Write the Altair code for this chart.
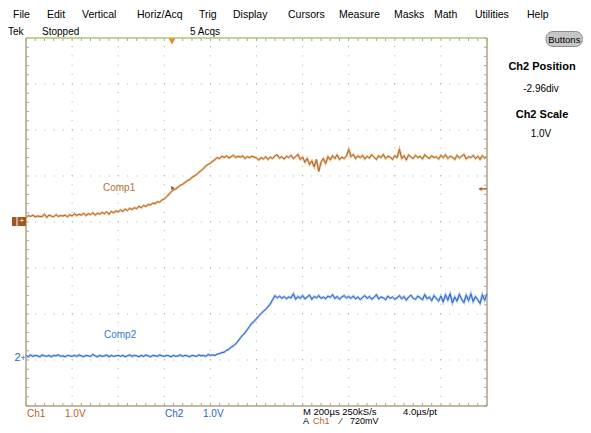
import altair as alt
import pandas as pd
import numpy as np

# ---------------- data (volts, sampled every 0.05 horizontal division) ----------------
ch1_volts = [
    0.10, 0.14, 0.12, 0.15, 0.11, 0.13, 0.12, 0.12, 0.17, 0.10, 0.15, 0.13, 0.11, 0.16, 0.12, 0.14, 0.13, 0.15, 0.11, 0.16, 0.13,
    0.18, 0.14, 0.17, 0.15, 0.19, 0.14, 0.18, 0.16, 0.20, 0.15, 0.19, 0.17, 0.21, 0.18, 0.22, 0.17, 0.23, 0.20, 0.24, 0.22,
    0.26, 0.23, 0.28, 0.25, 0.30, 0.27, 0.31, 0.29, 0.34, 0.31, 0.36, 0.34, 0.38, 0.37, 0.41, 0.40, 0.44, 0.43, 0.48, 0.50,
    0.55, 0.60, 0.66, 0.70, 0.72, 0.76, 0.80, 0.82, 0.86, 0.90, 0.92, 0.97, 1.00, 1.03, 1.08, 1.12, 1.16, 1.22, 1.25, 1.28,
    1.32, 1.36, 1.40, 1.38, 1.43, 1.40, 1.44, 1.39, 1.42, 1.45, 1.40, 1.43, 1.41, 1.44, 1.38, 1.42, 1.40, 1.43, 1.41, 1.39,
    1.35, 1.40, 1.37, 1.42, 1.36, 1.41, 1.38, 1.44, 1.46, 1.39, 1.42, 1.37, 1.43, 1.40, 1.45, 1.38, 1.42, 1.47, 1.36, 1.41,
    1.30, 1.38, 1.25, 1.33, 1.20, 1.36, 1.10, 1.30, 1.38, 1.27, 1.42, 1.35, 1.44, 1.38, 1.46, 1.36, 1.41, 1.38, 1.43, 1.58,
    1.42, 1.47, 1.38, 1.44, 1.40, 1.45, 1.37, 1.43, 1.39, 1.46, 1.41, 1.36, 1.44, 1.40, 1.47, 1.38, 1.43, 1.41, 1.36, 1.44,
    1.40, 1.58, 1.38, 1.44, 1.35, 1.46, 1.41, 1.38, 1.45, 1.40, 1.43, 1.37, 1.46, 1.41, 1.38, 1.44, 1.40, 1.42, 1.37, 1.45,
    1.40, 1.46, 1.38, 1.43, 1.41, 1.36, 1.45, 1.39, 1.43, 1.47, 1.37, 1.42, 1.40, 1.45, 1.38, 1.43, 1.36, 1.44, 1.39, 1.42,
]
ch2_volts = [
    0.06, 0.03, 0.07, 0.04, 0.06, 0.05, 0.03, 0.07, 0.05, 0.04, 0.06, 0.03, 0.06, 0.05, 0.07, 0.04, 0.05, 0.03, 0.06, 0.05, 0.04,
    0.06, 0.04, 0.07, 0.05, 0.03, 0.06, 0.05, 0.04, 0.08, 0.05, 0.03, 0.06, 0.04, 0.05, 0.07, 0.03, 0.06, 0.04, 0.05, 0.06,
    0.04, 0.06, 0.03, 0.05, 0.07, 0.04, 0.06, 0.05, 0.03, 0.06, 0.04, 0.07, 0.05, 0.03, 0.06, 0.05, 0.04, 0.07, 0.05, 0.04,
    0.06, 0.05, 0.03, 0.06, 0.04, 0.05, 0.07, 0.04, 0.06, 0.05, 0.03, 0.06, 0.05, 0.04, 0.07, 0.05, 0.06, 0.04, 0.08, 0.06,
    0.07, 0.06, 0.09, 0.10, 0.12, 0.13, 0.17, 0.19, 0.24, 0.27, 0.31, 0.37, 0.44, 0.50, 0.55, 0.62, 0.69, 0.76, 0.80, 0.86,
    0.92, 0.97, 1.02, 1.06, 1.12, 1.18, 1.27, 1.36, 1.31, 1.35, 1.30, 1.34, 1.29, 1.33, 1.31, 1.40, 1.28, 1.34, 1.30, 1.36,
    1.29, 1.33, 1.37, 1.28, 1.34, 1.31, 1.36, 1.30, 1.33, 1.29, 1.35, 1.32, 1.38, 1.30, 1.34, 1.28, 1.33, 1.36, 1.31, 1.34,
    1.30, 1.35, 1.29, 1.33, 1.27, 1.32, 1.36, 1.30, 1.34, 1.28, 1.32, 1.38, 1.29, 1.33, 1.31, 1.27, 1.35, 1.30, 1.33, 1.28,
    1.31, 1.36, 1.29, 1.34, 1.26, 1.33, 1.37, 1.30, 1.28, 1.35, 1.31, 1.27, 1.38, 1.29, 1.33, 1.25, 1.36, 1.30, 1.24, 1.35,
    1.22, 1.38, 1.26, 1.40, 1.20, 1.33, 1.24, 1.39, 1.28, 1.21, 1.37, 1.25, 1.40, 1.23, 1.34, 1.27, 1.19, 1.38, 1.26, 1.40,
]
channels = ["Comp1", "Comp2"]
ch_position = [0.0, -2.96]      # divisions from screen centre
ch_scale = [1.0, 1.0]           # V/div
trigger_level = 0.72            # V on Ch1
menu_items = ["File", "Edit", "Vertical", "Horiz/Acq", "Trig", "Display", "Cursors",
              "Measure", "Masks", "Math", "Utilities", "Help"]

# ---------------- layout helpers ----------------
W, H = 461, 368
X0, Y0 = 26, 38           # plot area origin on the page
def X(px):  # page pixel -> horizontal division
    return (px - X0) / 46.1
def Y(py):  # page pixel -> vertical division (0 at bottom)
    return (Y0 + H - py) / 46.0

ORANGE = "#b5621c"
BLUE = "#2a64c8"
GRIDC = "#b4ac8c"
TICKC = "#a8a8a0"
BORDER = "#b0a284"

xs = alt.Scale(domain=[0, 10], nice=False, zero=False)
ys = alt.Scale(domain=[0, 8], nice=False, zero=False)

t = np.arange(len(ch1_volts)) * 0.05
rows = []
for name, volts, pos, sc in zip(channels, [ch1_volts, ch2_volts], ch_position, ch_scale):
    for ti, v in zip(t, volts):
        rows.append({"t": ti, "div": 4 + pos + v / sc, "ch": name})
traces = pd.DataFrame(rows)

# grid
vgrid = pd.DataFrame({"x": np.arange(1, 10), "y": 0.0, "y2": 8.0})
hgrid = pd.DataFrame({"y": np.arange(1, 8), "x": 0.0, "x2": 10.0})
grid_v = alt.Chart(vgrid).mark_rule(color=GRIDC, strokeDash=[1, 8.2], strokeWidth=1).encode(
    x=alt.X("x:Q", scale=xs, axis=None), y=alt.Y("y:Q", scale=ys, axis=None), y2="y2")
grid_h = alt.Chart(hgrid).mark_rule(color=GRIDC, strokeDash=[1, 8.2], strokeWidth=1).encode(
    x=alt.X("x:Q", scale=xs, axis=None), x2="x2", y=alt.Y("y:Q", scale=ys, axis=None))

# minor ticks along the borders
tx = np.round(np.arange(0, 10.0001, 0.2), 3)
ty = np.round(np.arange(0, 8.0001, 0.2), 3)
tl = 3 / 46.0
ticks = pd.concat([
    pd.DataFrame({"x": tx, "x2": tx, "y": 8.0, "y2": 8.0 - tl}),
    pd.DataFrame({"x": tx, "x2": tx, "y": 0.0, "y2": tl}),
    pd.DataFrame({"x": 0.0, "x2": 3 / 46.1, "y": ty, "y2": ty}),
    pd.DataFrame({"x": 10.0 - 3 / 46.1, "x2": 10.0, "y": ty, "y2": ty}),
])
tick_layer = alt.Chart(ticks).mark_rule(color=TICKC, strokeWidth=1).encode(
    x=alt.X("x:Q", scale=xs, axis=None), x2="x2", y=alt.Y("y:Q", scale=ys, axis=None), y2="y2")

# borders
borders = pd.DataFrame({
    "x": [0, 10, 0], "x2": [0, 10, 10], "y": [0, 0, 0], "y2": [8, 8, 0]})
border_layer = alt.Chart(borders).mark_rule(color=BORDER, strokeWidth=1.5).encode(
    x=alt.X("x:Q", scale=xs, axis=None), x2="x2", y=alt.Y("y:Q", scale=ys, axis=None), y2="y2")
top_border = alt.Chart(pd.DataFrame({"x": [0], "x2": [10], "y": [8]})).mark_rule(
    color="#a9c86c", strokeWidth=1.5).encode(
    x=alt.X("x:Q", scale=xs, axis=None), x2="x2", y=alt.Y("y:Q", scale=ys, axis=None))

# traces
col_scale = alt.Scale(domain=channels, range=[ORANGE, BLUE])
halo_scale = alt.Scale(domain=channels, range=["#e6c39c", "#a9c3ef"])
halo = alt.Chart(traces).mark_line(strokeWidth=2.4, interpolate="linear").encode(
    x=alt.X("t:Q", scale=xs, axis=None), y=alt.Y("div:Q", scale=ys, axis=None),
    color=alt.Color("ch:N", scale=halo_scale, legend=None), detail="ch:N")
line = alt.Chart(traces).mark_line(strokeWidth=1, interpolate="linear").encode(
    x=alt.X("t:Q", scale=xs, axis=None), y=alt.Y("div:Q", scale=ys, axis=None),
    color=alt.Color("ch:N", scale=col_scale, legend=None), detail="ch:N")

# markers
trig_y = 4 + ch_position[0] + trigger_level / ch_scale[0]
shapes = pd.DataFrame([
    {"x": X(172), "y": Y(41.5), "shape": "triangle-down", "c": "#f0861e", "s": 45},
    {"x": X(173), "y": Y(188), "shape": "triangle-right", "c": "#9a4e16", "s": 16},
    {"x": X(480), "y": trig_y, "shape": "triangle-left", "c": ORANGE, "s": 16},
])
shape_layer = alt.Chart(shapes).mark_point(filled=True, opacity=1).encode(
    x=alt.X("x:Q", scale=xs, axis=None), y=alt.Y("y:Q", scale=ys, axis=None),
    shape=alt.Shape("shape:N", scale=None), color=alt.Color("c:N", scale=None),
    size=alt.Size("s:Q", scale=None))
arrow_rule = alt.Chart(pd.DataFrame({"x": [X(480)], "x2": [10.0], "y": [trig_y]})).mark_rule(
    color=ORANGE, strokeWidth=1.5).encode(
    x=alt.X("x:Q", scale=xs, axis=None), x2="x2", y=alt.Y("y:Q", scale=ys, axis=None))

rects = pd.DataFrame([
    {"x": X(12), "x2": X(16.5), "y": Y(217), "y2": Y(226), "c": "#a4561c"},
    {"x": X(17.5), "x2": X(26), "y": Y(217), "y2": Y(226), "c": "#a4561c"},
])
rect_layer = alt.Chart(rects).mark_rect().encode(
    x=alt.X("x:Q", scale=xs, axis=None), x2="x2", y=alt.Y("y:Q", scale=ys, axis=None), y2="y2",
    color=alt.Color("c:N", scale=None))
button = alt.Chart(pd.DataFrame({"x": [X(546)], "x2": [X(582.5)], "y": [Y(31.5)], "y2": [Y(46.5)]})).mark_rect(
    cornerRadius=7, fill="#c6c6c6", stroke="#8c8c8c", strokeWidth=1).encode(
    x=alt.X("x:Q", scale=xs, axis=None), x2="x2", y=alt.Y("y:Q", scale=ys, axis=None), y2="y2")

# texts (left aligned)
menu_px = [13, 47, 82, 137, 199, 233, 288, 339, 394, 434, 475, 527]
txt = []
for m, px in zip(menu_items, menu_px):
    txt.append((m, px, 14.5, "#000000", 10.5))
txt += [
    ("Tek", 8, 32, "#000000", 10), ("Stopped", 42, 32, "#000000", 10), ("5 Acqs", 190, 32, "#000000", 10),
    ("Comp1", 103, 188, "#b0703a", 10), ("Comp2", 104, 335, "#3a76d2", 10),
    ("2", 14.5, 358, BLUE, 11), ("+", 20.5, 357.5, BLUE, 9), ("+", 19.5, 221, "#ffffff", 8),
    ("Ch1", 27, 413.5, ORANGE, 10), ("1.0V", 65, 413.5, ORANGE, 10),
    ("Ch2", 165, 413.5, BLUE, 10), ("1.0V", 203, 413.5, BLUE, 10),
    ("M 200µs 250kS/s", 303, 411.5, "#000000", 9.5), ("4.0µs/pt", 403, 411.5, "#000000", 9.5),
    ("A", 303, 420.5, "#000000", 9), ("Ch1", 313, 420.5, ORANGE, 9), ("⁄", 340, 420.5, "#000000", 9),
    ("720mV", 350, 420.5, "#000000", 9),
]
tdf = pd.DataFrame([{"text": a, "x": X(b), "y": Y(c), "c": d, "fs": e} for a, b, c, d, e in txt])
text_left = alt.Chart(tdf).mark_text(align="left", baseline="middle", font="Liberation Sans").encode(
    x=alt.X("x:Q", scale=xs, axis=None), y=alt.Y("y:Q", scale=ys, axis=None),
    text="text:N", color=alt.Color("c:N", scale=None), size=alt.Size("fs:Q", scale=None))

ctxt = [
    ("Buttons", 564.3, 39.5, "#000000", 9.5, "normal"),
    ("Ch2 Position", 542, 67, "#000000", 11, "bold"),
    ("-2.96div", 541, 89, "#000000", 10, "normal"),
    ("Ch2 Scale", 542, 115, "#000000", 11, "bold"),
    ("1.0V", 541, 134, "#000000", 10, "normal"),
]
cdf = pd.DataFrame([{"text": a, "x": X(b), "y": Y(c), "c": d, "fs": e, "w": f} for a, b, c, d, e, f in ctxt])
text_center_n = alt.Chart(cdf[cdf.w == "normal"]).mark_text(align="center", baseline="middle",
                                                            font="Liberation Sans").encode(
    x=alt.X("x:Q", scale=xs, axis=None), y=alt.Y("y:Q", scale=ys, axis=None),
    text="text:N", color=alt.Color("c:N", scale=None), size=alt.Size("fs:Q", scale=None))
text_center_b = alt.Chart(cdf[cdf.w == "bold"]).mark_text(align="center", baseline="middle",
                                                          font="Liberation Sans", fontWeight="bold").encode(
    x=alt.X("x:Q", scale=xs, axis=None), y=alt.Y("y:Q", scale=ys, axis=None),
    text="text:N", color=alt.Color("c:N", scale=None), size=alt.Size("fs:Q", scale=None))

chart = alt.layer(
    grid_v, grid_h, tick_layer, border_layer, top_border,
    halo, line, shape_layer, arrow_rule, rect_layer, button,
    text_left, text_center_n, text_center_b,
).resolve_scale(color="independent", size="independent", shape="independent").properties(
    width=W, height=H,
    autosize=alt.AutoSizeParams(type="none"),
    padding={"left": 18, "top": 30, "right": 96, "bottom": 19},
    background="#ffffff",
).configure_view(strokeWidth=0)

chart.save("out.html", embed_options={"renderer": "svg", "actions": False})
